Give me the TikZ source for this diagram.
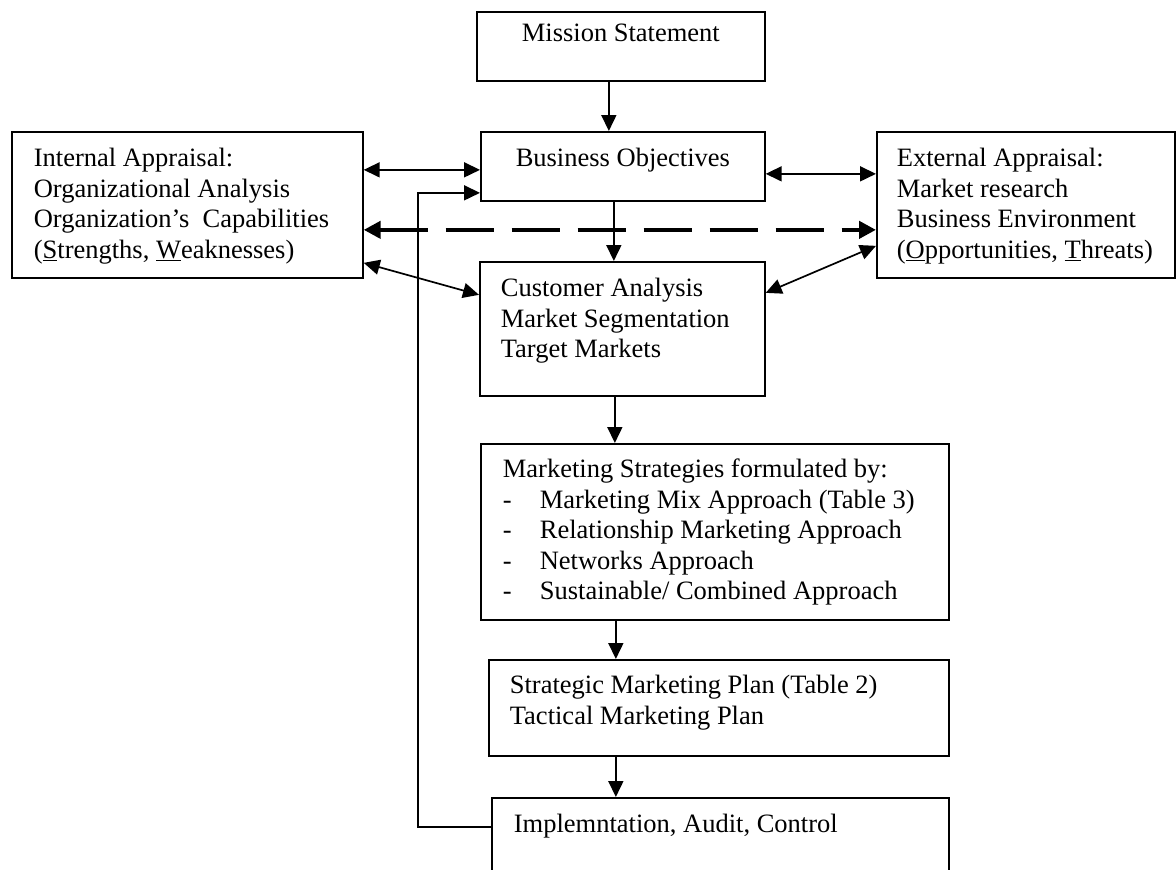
\documentclass[tikz,border=0pt]{standalone}
\usepackage{fontspec}
\setmainfont{Liberation Serif}
\usetikzlibrary{arrows.meta}
\newcommand{\mylbox}[5]{\begin{minipage}[t][#2][t]{#1}\raggedright\setlength{\leftskip}{#4}\rule{0pt}{#3}#5\end{minipage}}
\newcommand{\mycbox}[4]{\begin{minipage}[t][#2][t]{#1}\centering\rule{0pt}{#3}#4\end{minipage}}
\begin{document}
\begin{tikzpicture}[x=1pt,y=-1pt,
  box/.style={draw, line width=1.7pt, inner sep=0pt, anchor=north west, font=\fontsize{26.5pt}{30.5pt}\selectfont},
  arr/.style={line width=1.7pt, -{Triangle[length=16pt,width=15pt]}},
  dbl/.style={line width=1.7pt, {Triangle[length=16pt,width=15pt]}-{Triangle[length=16pt,width=15pt]}},
  thickdash/.style={line width=4.5pt, dash pattern=on 48pt off 18pt, {Triangle[length=17pt,width=17pt]}-{Triangle[length=17pt,width=17pt]}}]
\useasboundingbox (0,0) rectangle (1176,870);
\fill[white] (0,0) rectangle (1176,870);
\clip (0,0) rectangle (1176,870);

\node[box] (mission) at (476,11) {\mycbox{288pt}{69pt}{30pt}{Mission Statement}};
\node[box] (bo) at (480,131) {\mycbox{284pt}{69pt}{35pt}{Business Objectives}};
\node[box] (internal) at (11,131) {\mylbox{351pt}{146pt}{35pt}{22pt}{Internal Appraisal:\\Organizational Analysis\\Organization’s\ \ Capabilities\\(\underline{S}trengths, \underline{W}eaknesses)}};
\node[box] (ext) at (876,131) {\mylbox{298pt}{146pt}{35pt}{20pt}{External Appraisal:\\Market research\\Business Environment\\(\underline{O}pportunities, \underline{T}hreats)}};
\node[box] (cust) at (479,261) {\mylbox{285pt}{134pt}{35pt}{21pt}{Customer Analysis\\Market Segmentation\\Target Markets}};
\node[box] (ms) at (480,443) {\mylbox{468pt}{176pt}{34pt}{22pt}{Marketing Strategies formulated by:\\\makebox[37pt][l]{-}Marketing Mix Approach (Table 3)\\\makebox[37pt][l]{-}Relationship Marketing Approach\\\makebox[37pt][l]{-}Networks Approach\\\makebox[37pt][l]{-}Sustainable/ Combined Approach}};
\node[box] (smp) at (488,659) {\mylbox{460pt}{96pt}{34pt}{21pt}{Strategic Marketing Plan (Table 2)\\Tactical Marketing Plan}};
\node[box] (impl) at (491,797) {\mylbox{457pt}{120pt}{35pt}{22pt}{Implemntation, Audit, Control}};

% vertical flow
\coordinate (m1) at ([xshift=-12pt]mission.south);
\draw[arr] (m1) -- (m1 |- bo.north);
\coordinate (m2) at ([xshift=-9pt]bo.south);
\draw[arr] (m2) -- (m2 |- cust.north);
\coordinate (m3) at ([xshift=-7.5pt]cust.south);
\draw[arr] (m3) -- (m3 |- ms.north);
\coordinate (m4) at ([xshift=-99pt]ms.south);
\draw[arr] (m4) -- (m4 |- smp.north);
\coordinate (m5) at ([xshift=-103pt]smp.south);
\draw[arr] (m5) -- (m5 |- impl.north);

% horizontal links
\coordinate (h1) at ([yshift=-3.5pt]bo.west);
\draw[dbl] (h1 -| internal.east) -- (h1);
\coordinate (h2) at ([yshift=-7.5pt]bo.east);
\draw[dbl] (h2) -- (h2 -| ext.west);
\coordinate (h3) at ([yshift=-25pt]internal.east);
\draw[thickdash] (h3) -- (h3 -| ext.west);

% diagonal links
\draw[dbl] ([yshift=-58pt]internal.east) -- ([yshift=34pt]cust.west);
\draw[dbl] ([yshift=-41pt]ext.west) -- ([yshift=36pt]cust.east);

% feedback loop
\coordinate (fb) at ([yshift=-26.5pt]bo.west);
\coordinate (fc) at ([xshift=-62pt]fb);
\coordinate (fs) at ([yshift=-30pt]impl.north west);
\draw[arr] (fs) -| (fc) -- (fb);
\end{tikzpicture}
\end{document}
